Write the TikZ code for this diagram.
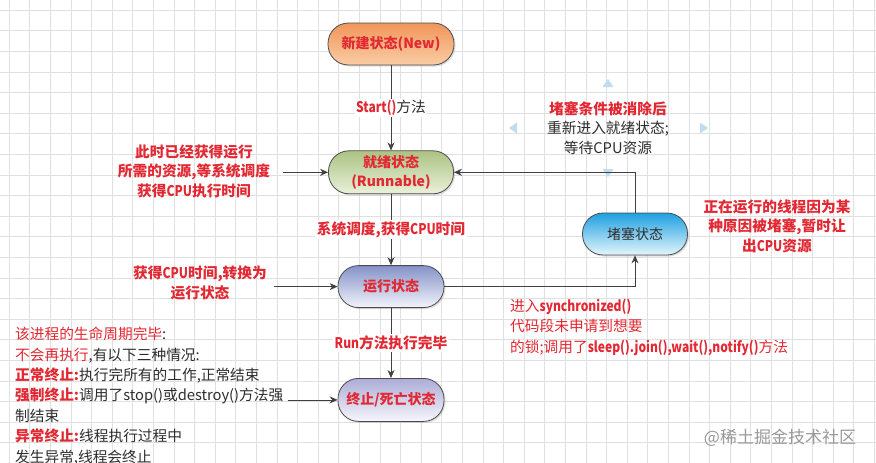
\documentclass[tikz,border=0pt]{standalone}
\usepackage{fontspec}
\setmainfont{Noto Sans CJK SC}
\newfontfamily\ennarrow{Noto Sans CJK SC}[FakeStretch=0.82]
\usepackage{xcolor}
\usetikzlibrary{arrows.meta,positioning,shadows}

\definecolor{txtred}{RGB}{226,40,50}
\definecolor{txtdark}{RGB}{45,45,45}
\definecolor{gridgray}{RGB}{224,224,224}
\definecolor{handleblue}{RGB}{190,220,242}

\newcommand{\redb}[1]{\textcolor{txtred}{\bfseries #1}}
\newcommand{\redn}[1]{\textcolor{txtred}{#1}}
\newcommand{\en}[1]{{\ennarrow #1}}

\begin{document}
\begin{tikzpicture}[x=1pt, y=-1pt,
  state/.style={draw=black!70, line width=0.8pt, rounded corners=20.5pt,
                minimum height=42pt, inner sep=1pt, align=center, text=txtred,
                font=\bfseries\fontsize{14}{19}\selectfont,
                drop shadow={opacity=0.25, shadow xshift=1.5pt, shadow yshift=-1.5pt}},
  note/.style={align=center, text=txtred, inner sep=0pt,
               font=\bfseries\fontsize{14.7}{19.5}\selectfont},
  lbl/.style={fill=white, inner sep=1.5pt, text=txtred,
              font=\bfseries\fontsize{14.7}{16}\selectfont},
  arr/.style={-{Stealth[length=8pt,width=7pt]}, line width=0.8pt, draw=black!75},
  gridline/.style={gridgray, line width=0.5pt},
  handle/.style={fill=handleblue}
]
  \useasboundingbox (0,0) rectangle (876,463);
  \fill[white] (0,0) rectangle (876,463);

  % background grid
  \foreach \gx in {9,29.6,...,876} \draw[gridline] (\gx,0) -- (\gx,463);
  \foreach \gy in {10,30.6,...,463} \draw[gridline] (0,\gy) -- (876,\gy);

  % selection handles round the text box
  \fill[handle] (608,79) -- (602.5,87) -- (613.5,87) -- cycle;
  \fill[handle] (509,128) -- (517,122.5) -- (517,133.5) -- cycle;
  \fill[handle] (708,128) -- (700,122.5) -- (700,133.5) -- cycle;
  \fill[handle] (608,177) -- (602.5,169) -- (613.5,169) -- cycle;

  % states
  \node[state, minimum width=126pt, top color={rgb,255:red,240;green,150;blue,90},
        bottom color={rgb,255:red,250;green,205;blue,165}] (New) at (391,44) {新建状态(New)};
  \node[state, below=85pt of New, minimum width=125pt, minimum height=43pt,
        top color={rgb,255:red,172;green,194;blue,132},
        bottom color={rgb,255:red,234;green,241;blue,218}] (Ready) {就绪状态\\(Runnable)};
  \node[state, below=71pt of Ready, minimum width=106pt,
        top color={rgb,255:red,132;green,147;blue,200},
        bottom color={rgb,255:red,242;green,243;blue,250}] (Running) {运行状态};
  \node[state, below=70pt of Running, minimum width=106pt, minimum height=43pt,
        top color={rgb,255:red,172;green,172;blue,216},
        bottom color={rgb,255:red,246;green,246;blue,252}] (Dead) {终止/死亡状态};
  \node[state, minimum width=105pt, text=txtdark, font=\fontsize{14}{19}\selectfont,
        top color={rgb,255:red,30;green,160;blue,225},
        bottom color={rgb,255:red,228;green,245;blue,252}] (Blocked) at (635,234) {堵塞状态};

  % free ends of the side arrows
  \coordinate[left=45pt of Ready] (inReady);
  \coordinate[left=64pt of Running] (inRunning);
  \coordinate[left=50pt of Dead] (inDead);

  % notes
  \node[note] (noteReady) at (194,171) {此时已经获得运行\\所需的资源,等系统调度\\获得\en{CPU}执行时间};
  \node[note] (noteRunning) at (200,283) {获得\en{CPU}时间,转换为\\运行状态};
  \node[note, text=txtdark, font=\fontsize{14.7}{19.5}\selectfont] (noteBack) at (608,128)
    {\redb{堵塞条件被消除后}\\重新进入就绪状态;\\等待CPU资源};
  \node[note] (noteBlocked) at (777,226) {正在运行的线程因为某\\种原因被堵塞,暂时让\\出\en{CPU}资源};
  \node[note, anchor=west, align=left, font=\fontsize{14.7}{20.5}\selectfont] (noteSync) at (510,327)
    {进入\textbf{\en{synchronized()}}\\代码段未申请到想要\\的锁;调用了\textbf{\en{sleep().join(),wait(),notify()}}方法};
  \node[note, anchor=west, align=left, text=txtdark, font=\fontsize{14.7}{20.4}\selectfont] (noteEnd) at (15,396)
    {\redn{该进程的生命周期完毕}:\\
     \redn{不会再执行},有以下三种情况:\\
     \redb{正常终止:}执行完所有的工作,正常结束\\
     \redb{强制终止:}调用了stop()或destroy()方法强\\
     制结束\\
     \redb{异常终止:}线程执行过程中\\
     发生异常,线程会终止};
  \node[text=black!40, font=\fontsize{17}{17}\selectfont] (mark) at (780,438) {@稀土掘金技术社区};

  % transitions
  \draw[arr] (New) -- node[lbl]{\en{Start()}\textcolor{txtdark}{\mdseries 方法}} (Ready);
  \draw[arr] (Ready) -- node[lbl]{系统调度,获得\en{CPU}时间} (Running);
  \draw[arr] (Running) -- node[lbl]{\en{Run}方法执行完毕} (Dead);
  \draw[arr] (Running) -| (Blocked);
  \draw[arr] (Blocked) |- (Ready);
  \draw[arr] (inReady) -- (Ready);
  \draw[arr] (inRunning) -- (Running);
  \draw[arr] (inDead) -- (Dead);
\end{tikzpicture}
\end{document}
